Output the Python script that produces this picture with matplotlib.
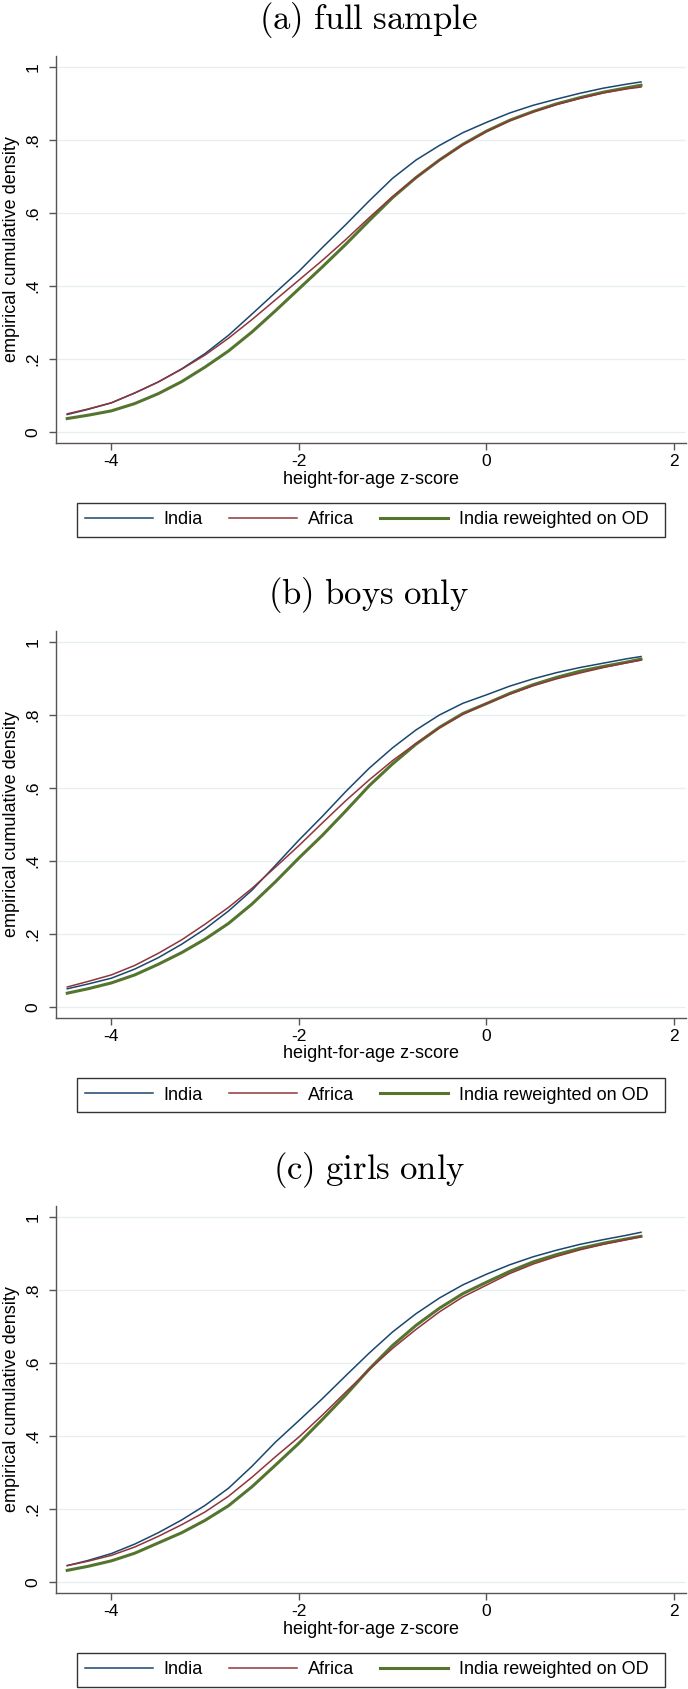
import numpy as np
import matplotlib
matplotlib.use('Agg')
from matplotlib import pyplot as plt
from matplotlib.lines import Line2D
from matplotlib.patches import Rectangle
from matplotlib.transforms import IdentityTransform

plt.rcParams['mathtext.fontset'] = 'cm'
plt.rcParams['font.family'] = ['Liberation Sans', 'DejaVu Sans']

# height-for-age z-score grid the curves were read at
z = [-4.47, -4.25, -4.0, -3.75, -3.5, -3.25, -3.0, -2.75, -2.5, -2.25, -2.0, -1.75, -1.5,
     -1.25, -1.0, -0.75, -0.5, -0.25, 0.0, 0.25, 0.5, 0.75, 1.0, 1.25, 1.5, 1.65]

# (a) full sample
india_a = [0.048, 0.062, 0.080, 0.107, 0.137, 0.173, 0.215, 0.265, 0.323, 0.382, 0.440, 0.505, 0.568,
           0.633, 0.695, 0.745, 0.785, 0.820, 0.848, 0.874, 0.895, 0.912, 0.928, 0.942, 0.953, 0.959]
africa_a = [0.050, 0.063, 0.080, 0.107, 0.137, 0.172, 0.211, 0.257, 0.308, 0.362, 0.416, 0.470, 0.527,
            0.587, 0.645, 0.697, 0.745, 0.787, 0.823, 0.853, 0.877, 0.897, 0.914, 0.929, 0.940, 0.945]
rew_a = [0.037, 0.046, 0.058, 0.078, 0.105, 0.138, 0.178, 0.222, 0.274, 0.332, 0.392, 0.452, 0.514,
         0.579, 0.642, 0.697, 0.745, 0.788, 0.824, 0.854, 0.878, 0.899, 0.916, 0.931, 0.943, 0.950]

# (b) boys only
india_b = [0.050, 0.063, 0.079, 0.104, 0.135, 0.172, 0.214, 0.263, 0.320, 0.388, 0.457, 0.522, 0.590,
           0.654, 0.710, 0.759, 0.800, 0.832, 0.855, 0.879, 0.899, 0.916, 0.930, 0.942, 0.954, 0.960]
africa_b = [0.055, 0.070, 0.088, 0.114, 0.147, 0.184, 0.227, 0.273, 0.325, 0.383, 0.442, 0.504, 0.565,
            0.622, 0.675, 0.722, 0.765, 0.802, 0.831, 0.857, 0.880, 0.899, 0.915, 0.930, 0.943, 0.950]
rew_b = [0.038, 0.050, 0.066, 0.088, 0.117, 0.149, 0.186, 0.229, 0.282, 0.343, 0.408, 0.470, 0.537,
         0.606, 0.666, 0.720, 0.766, 0.804, 0.831, 0.859, 0.883, 0.903, 0.920, 0.933, 0.945, 0.953]

# (c) girls only
india_c = [0.045, 0.059, 0.078, 0.104, 0.135, 0.170, 0.210, 0.257, 0.317, 0.383, 0.442, 0.502, 0.565,
           0.627, 0.685, 0.735, 0.778, 0.814, 0.843, 0.869, 0.891, 0.909, 0.925, 0.938, 0.950, 0.958]
africa_c = [0.045, 0.057, 0.073, 0.096, 0.125, 0.157, 0.192, 0.235, 0.287, 0.343, 0.397, 0.457, 0.520,
            0.582, 0.640, 0.692, 0.740, 0.781, 0.813, 0.845, 0.871, 0.892, 0.910, 0.925, 0.938, 0.946]
rew_c = [0.032, 0.043, 0.058, 0.079, 0.107, 0.135, 0.169, 0.209, 0.261, 0.320, 0.380, 0.445, 0.512,
         0.583, 0.648, 0.703, 0.750, 0.790, 0.821, 0.851, 0.877, 0.897, 0.914, 0.928, 0.940, 0.947]

titles = ['(a) full sample', '(b) boys only', '(c) girls only']
labels = ['India', 'Africa', 'India reweighted on OD']
xticks = [-4, -2, 0, 2]
yticks = [0, 0.2, 0.4, 0.6, 0.8, 1]
yticklabels = ['0', '.2', '.4', '.6', '.8', '1']

navy = '#1a476f'
maroon = '#90353b'
green = '#55752f'

W, H = 688, 1689
fs = 13
fig = plt.figure(figsize=(W/100, H/100), dpi=100)

def px_axes(left, top, right, bottom):
    return fig.add_axes([left/W, 1 - bottom/H, (right-left)/W, (bottom-top)/H])

panels = [(india_a, africa_a, rew_a), (india_b, africa_b, rew_b), (india_c, africa_c, rew_c)]
step = 575

for i, (ind, afr, rew) in enumerate(panels):
    off = i*step
    ax = px_axes(56, 56+off, 686, 443+off)
    ax.plot(z, ind, color=navy, lw=1.1, zorder=3)
    ax.plot(z, afr, color=maroon, lw=1.1, zorder=3)
    ax.plot(z, rew, color=green, lw=2.2, zorder=2)
    ax.set_xlim(-4.59, 2.13)
    ax.set_ylim(-0.03, 1.03)
    ax.set_xticks(xticks)
    ax.set_xticklabels([str(t) for t in xticks])
    ax.set_yticks(yticks)
    ax.set_yticklabels(yticklabels, rotation=90, va='center')
    for t in yticks:
        ax.axhline(t, color='#e6eef0', lw=0.9, zorder=1)
    for s in ['top', 'right']:
        ax.spines[s].set_visible(False)
    for s in ['left', 'bottom']:
        ax.spines[s].set_color('#555555')
        ax.spines[s].set_linewidth(1.0)
    ax.tick_params(axis='both', direction='out', length=5, width=1.0, color='#555555',
                   labelsize=12.5, labelcolor='black')
    ax.tick_params(axis='x', pad=3)
    ax.tick_params(axis='y', pad=6)
    ax.set_xlabel('height-for-age z-score', fontsize=fs, labelpad=1)
    ax.set_ylabel('empirical cumulative density', fontsize=fs, labelpad=4)

    fig.text(369/W, 1 - (20+off)/H, r'$\mathrm{' + titles[i].replace(' ', r'\ ') + '}$',
             ha='center', va='center', fontsize=25)

    # legend box drawn separately: Stata leaves more room on the right
    fig.patches.append(Rectangle((77, H - (537+off)), 588, 34, transform=IdentityTransform(),
                                 fill=False, edgecolor='#333333', lw=1.0))
    handles = [Line2D([], [], color=navy, lw=1.1),
               Line2D([], [], color=maroon, lw=1.1),
               Line2D([], [], color=green, lw=2.2)]
    fig.legend(handles, labels, loc='center left', ncol=3,
               bbox_to_anchor=(77, H - (520+off)), bbox_transform=IdentityTransform(),
               fontsize=fs, handlelength=3.77, handletextpad=0.6, columnspacing=1.45,
               frameon=False, borderpad=0.42, borderaxespad=0)

fig.savefig('out.png', dpi=100)
